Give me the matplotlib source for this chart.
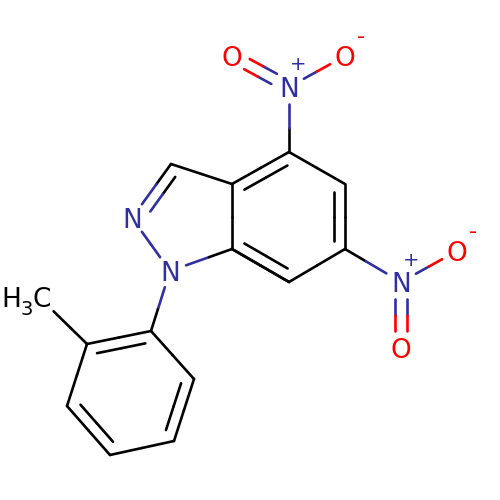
import numpy as np
import matplotlib
matplotlib.use('Agg')
import matplotlib.pyplot as plt

BLUE = '#3030A0'
RED = '#FF0000'
BLACK = '#000000'

# atoms (pixel positions)
atom_x = [171, 132, 170, 232, 232, 289, 345, 345, 289, 289, 232, 345, 401, 457, 401, 151, 87, 67, 110, 174, 194, 40]
atom_y = [164, 218, 271, 249, 184, 152, 184, 249, 282, 87, 56, 56, 282, 251, 348, 331, 344, 406, 455, 441, 379, 298]
atom_col = ['k', 'N', 'N', 'k', 'k', 'k', 'k', 'k', 'k', 'N', 'O', 'O', 'N', 'O', 'O', 'k', 'k', 'k', 'k', 'k', 'k', 'k']
atom_gap = [0, 17, 17, 0, 0, 0, 0, 0, 0, 17, 17, 17, 17, 17, 17, 0, 0, 0, 0, 0, 0, 19]

# single/outer bonds
bonds_a = [0, 0, 1, 2, 3, 4, 5, 6, 7, 8, 3, 5, 9, 7, 12, 2, 15, 16, 17, 18, 19, 20, 16]
bonds_b = [4, 1, 2, 3, 4, 5, 6, 7, 8, 3, 8, 9, 11, 12, 13, 15, 16, 17, 18, 19, 20, 15, 21]
# ring double bonds: bond ends and ring centre
inner_a = [3, 4, 6, 15, 17, 19, 0]
inner_b = [8, 5, 7, 16, 18, 20, 1]
inner_cx = [289, 289, 289, 130, 130, 130, 188]
inner_cy = [217, 217, 217, 393, 393, 393, 217]
# nitro double bonds, drawn as two lines either side of the axis
nitro_a = [9, 12]
nitro_b = [10, 14]

# atom labels
label_text = ['N', 'N', 'N', 'O', 'N', 'O', 'O', 'O']
label_x = [132, 170, 289, 232, 401, 345, 457, 401]
label_y = [218, 271, 87, 56, 282, 56, 251, 348]
label_col = [BLUE, BLUE, BLUE, RED, BLUE, RED, RED, RED]
# charges
charge_text = ['+', '-', '+', '-']
charge_x = [298, 361, 411, 473]
charge_y = [65, 37, 260, 232]
charge_col = [BLUE, RED, BLUE, RED]

colours = {'k': BLACK, 'N': BLUE, 'O': RED}
LW = 1.9


def halfbond(ax, p, q, c1, c2):
    m = (p + q) / 2
    ax.plot([p[0], m[0]], [p[1], m[1]], color=colours[c1], lw=LW, solid_capstyle='round')
    ax.plot([m[0], q[0]], [m[1], q[1]], color=colours[c2], lw=LW, solid_capstyle='round')


def trimmed(i, j):
    p = np.array([atom_x[i], atom_y[i]], dtype=float)
    q = np.array([atom_x[j], atom_y[j]], dtype=float)
    u = (q - p) / np.linalg.norm(q - p)
    return p, q, u


fig = plt.figure(figsize=(5, 5), dpi=100)
ax = fig.add_axes([0, 0, 1, 1])
ax.set_xlim(0, 500)
ax.set_ylim(500, 0)
ax.axis('off')

for i, j in zip(bonds_a, bonds_b):
    p, q, u = trimmed(i, j)
    halfbond(ax, p + u * atom_gap[i], q - u * atom_gap[j], atom_col[i], atom_col[j])

# inner line of each ring double bond
for i, j, cx, cy in zip(inner_a, inner_b, inner_cx, inner_cy):
    p, q, u = trimmed(i, j)
    n = np.array([-u[1], u[0]])
    if np.dot(np.array([cx, cy]) - p, n) < 0:
        n = -n
    start = p + u * max(atom_gap[i] - 1, 8) + n * 11
    end = q - u * max(atom_gap[j] - 1, 8) + n * 11
    halfbond(ax, start, end, atom_col[i], atom_col[j])

for i, j in zip(nitro_a, nitro_b):
    p, q, u = trimmed(i, j)
    n = np.array([-u[1], u[0]])
    for s in (-5.8, 5.8):
        halfbond(ax, p + u * atom_gap[i] + n * s, q - u * atom_gap[j] + n * s, atom_col[i], atom_col[j])

for t, x, y, c in zip(label_text, label_x, label_y, label_col):
    ax.text(x, y, t, color=c, fontsize=19, ha='center', va='center_baseline', family='DejaVu Sans')
for t, x, y, c in zip(charge_text, charge_x, charge_y, charge_col):
    ax.text(x, y, t, color=c, fontsize=16 if t == '-' else 14, ha='center', va='center', family='DejaVu Sans')

# methyl label
ax.text(1, 307, 'H', color=BLACK, fontsize=19, ha='left', va='baseline')
ax.text(21, 315, '3', color=BLACK, fontsize=14, ha='left', va='baseline')
ax.text(33, 307, 'C', color=BLACK, fontsize=19, ha='left', va='baseline')

fig.savefig('out.png', dpi=100)
